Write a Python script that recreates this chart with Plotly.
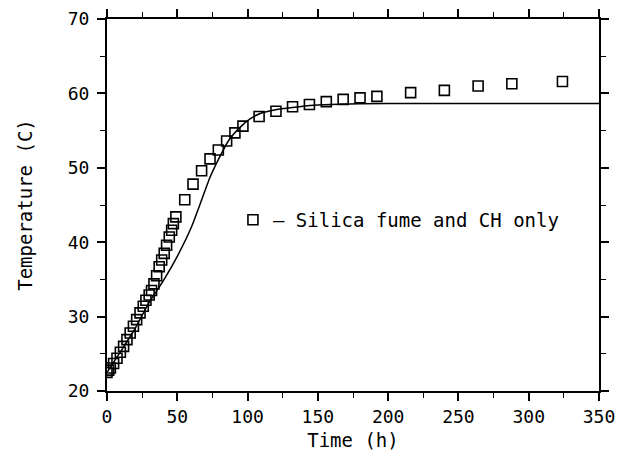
import plotly.graph_objects as go

# Measured data (squares): Silica fume and CH only
time_h = [0.0, 1.2, 2.4, 4.7, 7.1, 9.5, 11.8, 14.2, 16.5, 18.8, 21.1, 23.5, 25.8,
          27.7, 30.0, 31.7, 33.4, 35.3, 37.1, 38.9, 40.7, 42.4, 44.3, 46.0, 47.2,
          49.0, 55.3, 61.2, 67.3, 73.3, 79.2, 85.1, 91.0, 96.7, 108.2, 120.2,
          132.0, 144.0, 156.0, 168.0, 180.0, 192.0, 216.0, 240.0, 264.0, 288.0, 324.0]
temp_c = [22.5, 22.8, 23.1, 23.7, 24.4, 25.2, 26.0, 26.9, 27.8, 28.7, 29.6, 30.5, 31.4,
          32.2, 32.9, 33.5, 34.4, 35.5, 36.7, 37.6, 38.5, 39.6, 40.7, 41.6, 42.5,
          43.4, 45.7, 47.8, 49.6, 51.2, 52.4, 53.6, 54.7, 55.6, 56.9, 57.6,
          58.2, 58.5, 58.9, 59.2, 59.4, 59.6, 60.1, 60.4, 61.0, 61.3, 61.6]

# Model curve (solid line)
model_t = [0, 10, 20, 30, 40, 50, 60, 66, 73, 80, 87, 95, 102, 109, 120, 132, 147,
           165, 180, 220, 350]
model_y = [22.5, 25.4, 28.4, 31.9, 34.8, 38.1, 42.0, 45.0, 48.6, 51.4, 53.8, 55.5,
           56.6, 57.3, 57.8, 58.1, 58.4, 58.55, 58.6, 58.65, 58.65]

legend_label = "– Silica fume and CH only"

FONT = "DejaVu Sans Mono"

fig = go.Figure()
fig.add_trace(go.Scatter(
    x=model_t, y=model_y, mode="lines",
    line=dict(color="black", width=1.5, shape="spline", smoothing=0.4),
    showlegend=False, hoverinfo="skip"))
fig.add_trace(go.Scatter(
    x=time_h, y=temp_c, mode="markers", name=legend_label,
    marker=dict(symbol="square-open", size=10, color="black",
                line=dict(color="black", width=1.6))))

axis_common = dict(
    showline=True, linecolor="black", linewidth=2, mirror="allticks",
    ticks="outside", ticklen=8, tickwidth=1.5, tickcolor="black",
    showgrid=False, zeroline=False, automargin=False,
    tickfont=dict(family=FONT, size=18, color="black"),
)

fig.update_xaxes(
    range=[0, 350], dtick=50, tick0=0,
    minor=dict(dtick=25, ticks="outside", ticklen=5, tickwidth=1.2, tickcolor="black"),
    title=dict(text="Time (h)", font=dict(family=FONT, size=19, color="black"), standoff=8),
    **axis_common)
fig.update_yaxes(
    range=[20, 70], dtick=10, tick0=20,
    minor=dict(dtick=5, ticks="outside", ticklen=5, tickwidth=1.2, tickcolor="black"),
    ticklabelstandoff=4,
    title=dict(text="Temperature (C)", font=dict(family=FONT, size=19, color="black"), standoff=30),
    **axis_common)

fig.update_layout(
    width=620, height=455,
    margin=dict(l=107, r=21, t=19, b=64),
    paper_bgcolor="white", plot_bgcolor="white",
    showlegend=True,
    legend=dict(x=0.256, y=0.46, xanchor="left", yanchor="middle",
                bgcolor="rgba(0,0,0,0)", borderwidth=0, itemwidth=30,
                font=dict(family=FONT, size=19, color="black")),
)

fig.write_html(
    "out.html",
    config={"displayModeBar": False},
    post_script="document.body.style.margin='0';document.body.style.overflow='hidden';",
)
